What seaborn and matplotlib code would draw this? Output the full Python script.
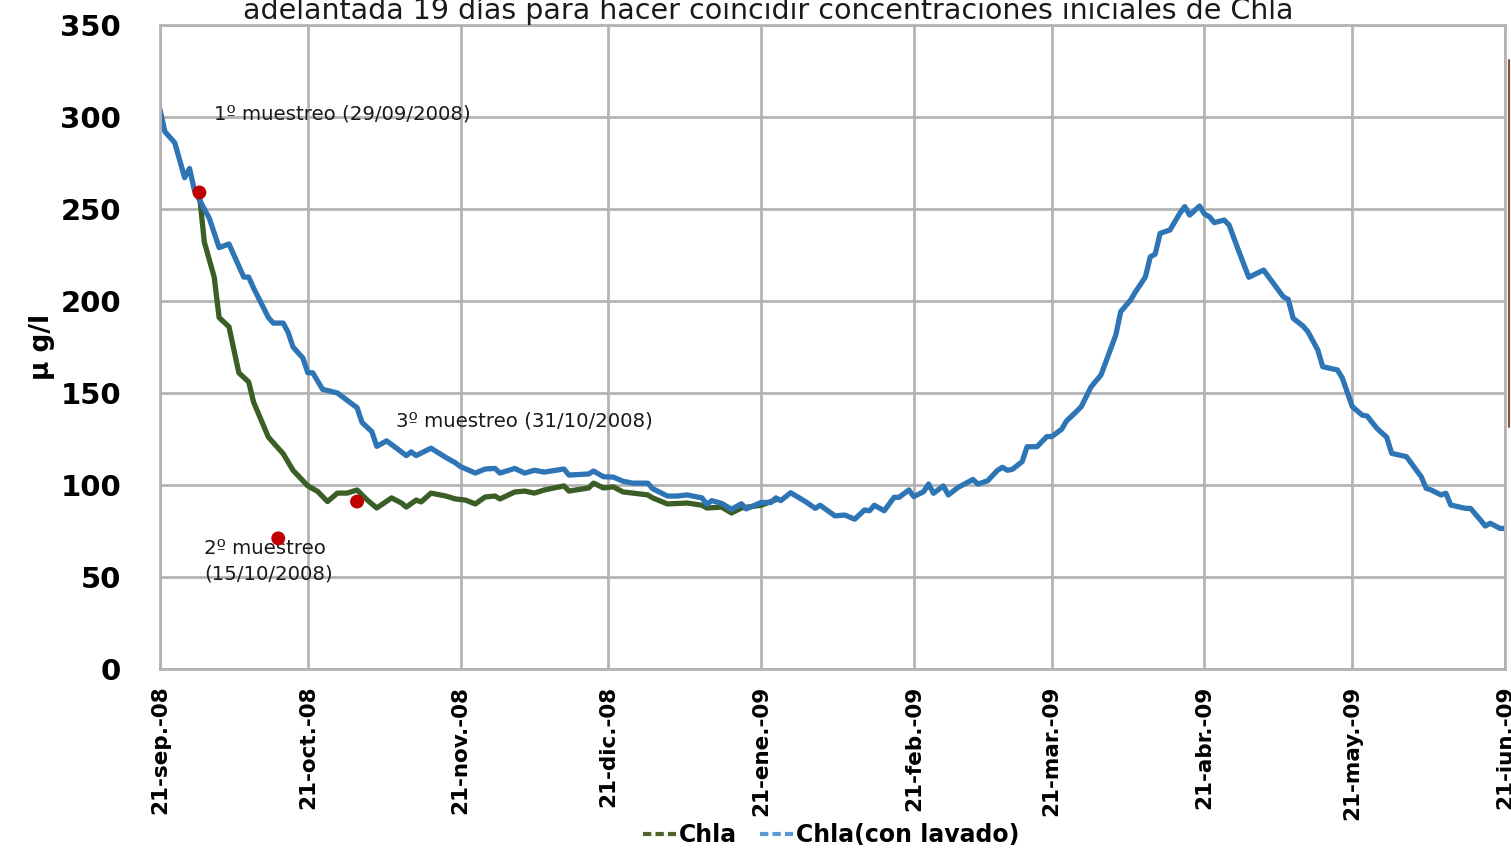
import numpy as np
import pandas as pd
import seaborn as sns
import matplotlib.pyplot as plt
from matplotlib.lines import Line2D

inicio = pd.Timestamp('2008-09-21')

# Chla(con lavado): dias desde 21-sep-08 y concentracion (ug/l)
lavado_dias = [0, 1, 3, 5, 6, 7, 9, 10, 12, 14, 15, 17, 18, 19, 22, 23, 25, 26, 27, 29,
               30, 31, 33, 36, 38, 40, 41, 43, 44, 46, 50, 51, 52, 55, 58, 60, 61, 64, 66, 68,
               69, 72, 74, 76, 78, 82, 83, 87, 88, 90, 92, 94, 96, 99, 100, 103, 105, 107, 110, 111,
               112, 114, 116, 118, 119, 122, 124, 125, 126, 128, 131, 133, 134, 137, 139, 141, 143, 144, 145, 147,
               149, 150, 152, 153, 155, 156, 157, 159, 160, 162, 165, 166, 168, 170, 171, 172, 173, 175, 176, 178,
               180, 181, 183, 184, 186, 187, 189, 191, 192, 194, 195, 197, 198, 200, 201, 202, 203, 205, 207, 208,
               209, 211, 212, 213, 214, 216, 217, 219, 221, 224, 226, 228, 229, 230, 232, 233, 235, 236, 239, 240,
               242, 244, 245, 247, 249, 250, 253, 254, 256, 257, 258, 260, 261, 262, 265, 266, 268, 269, 270, 272, 273]
lavado_vals = [304, 292, 286, 267, 272, 260, 250, 245, 229, 231, 225, 213, 213, 207, 191, 188, 188, 183, 175, 169,
               161, 161, 152, 150, 146, 142, 134, 129, 121, 124, 116, 118, 116, 120, 115, 112, 110, 106.5, 108.7, 109,
               106.5, 109, 106.5, 108, 107, 108.7, 105.4, 106, 107.6, 104.5, 104.3, 102, 101, 101, 98, 94, 94, 94.6, 93, 89.5,
               91.5, 90, 86.8, 89.8, 87, 90.5, 90.5, 93, 91.5, 95.8, 91, 87.3, 89, 83.2, 83.7, 81.4, 86.4, 86, 89, 86,
               93.3, 93.3, 97.3, 93.7, 96.4, 100.5, 95.5, 99.5, 94.6, 98.7, 103, 100.5, 102.3, 108, 109.6, 108, 108.5, 112.7, 120.8, 120.8,
               126.3, 126.3, 130.3, 134.8, 139.9, 142.6, 153.4, 159.8, 167, 181.5, 194.2, 200.5, 205, 213, 224, 225.5, 236.8, 238.6, 247.7, 251.3,
               246.7, 251.6, 247.3, 245.8, 242.6, 244, 241.3, 226.8, 212.9, 216.8, 209.6, 202.3, 200.9, 190.6, 186.4, 183.3, 173.4, 164.3, 162.5, 158,
               142.6, 138, 137.5, 130.8, 125.9, 117.2, 115.4, 111.8, 104.5, 98.2, 97.3, 94.6, 95.5, 89.1, 87.3, 87.3, 81, 77.7, 79.2, 76.4, 76.4]

# Chla (serie adelantada 19 dias)
chla_dias = [8, 9, 11, 12, 14, 16, 18, 19, 22, 25, 27, 30, 32, 34, 36, 38, 40, 42, 44, 47,
             49, 50, 52, 53, 55, 58, 60, 62, 64, 66, 68, 69, 72, 74, 76, 78, 82, 83, 87, 88,
             90, 92, 94, 96, 99, 100, 103, 107, 110, 111, 114, 116, 118, 122, 125]
chla_vals = [258, 232, 213, 191, 186, 161, 156, 145, 126, 117, 108, 99.5, 96.5, 91, 95.6, 95.6, 97.3, 92, 87.5, 93,
             90.2, 88, 91.8, 90.8, 95.6, 94, 92.4, 91.8, 89.7, 93.5, 94, 92.4, 96.2, 96.7, 95.6, 97.3, 99.5, 96.7, 98.4, 101,
             98.4, 99, 96.2, 95.6, 94.6, 93, 89.7, 90.2, 89, 87.5, 88, 84.8, 87.5, 89, 92]

muestreo_fechas = ['2008-09-29', '2008-10-15', '2008-10-31']
muestreo_vals = [259, 71, 91]

tick_fechas = ['2008-09-21', '2008-10-21', '2008-11-21', '2008-12-21', '2009-01-21',
               '2009-02-21', '2009-03-21', '2009-04-21', '2009-05-21', '2009-06-21']
tick_labels = ['21-sep.-08', '21-oct.-08', '21-nov.-08', '21-dic.-08', '21-ene.-09',
               '21-feb.-09', '21-mar.-09', '21-abr.-09', '21-may.-09', '21-jun.-09']

df_lav = pd.DataFrame({'fecha': inicio + pd.to_timedelta(lavado_dias, unit='D'), 'valor': lavado_vals})
df_chla = pd.DataFrame({'fecha': inicio + pd.to_timedelta(chla_dias, unit='D'), 'valor': chla_vals})
df_mue = pd.DataFrame({'fecha': pd.to_datetime(muestreo_fechas), 'valor': muestreo_vals})

sns.set_style('white')
plt.rcParams['font.family'] = ['DejaVu Sans']

verde = '#3b5e26'
azul = '#2e75b6'
gris = '#b4b4b4'

fig = plt.figure(figsize=(15.11, 8.55), dpi=100)
ax = fig.add_axes([160 / 1511, 1 - 669 / 855, (1505 - 160) / 1511, (669 - 25) / 855])

sns.lineplot(data=df_chla, x='fecha', y='valor', color=verde, lw=3.8, ax=ax)
sns.lineplot(data=df_lav, x='fecha', y='valor', color=azul, lw=3.8, ax=ax)
sns.scatterplot(data=df_mue, x='fecha', y='valor', color='#c00000', s=100, edgecolor='none', zorder=5, ax=ax)

ax.set_ylim(0, 350)
ax.set_yticks(range(0, 351, 50))
ax.set_xlim(pd.Timestamp('2008-09-21'), pd.Timestamp('2009-06-21'))
ax.set_xticks(pd.to_datetime(tick_fechas))
ax.set_xticklabels(tick_labels, rotation=90, fontsize=15.5, fontweight='bold', color='black')
ax.tick_params(axis='y', labelsize=21, pad=28, labelcolor='black', length=0)
for lab in ax.get_yticklabels():
    lab.set_fontweight('bold')
ax.tick_params(axis='x', pad=4, length=8, width=2, color=gris, direction='out')

ax.grid(True, color=gris, lw=2)
ax.set_axisbelow(True)
for s in ax.spines.values():
    s.set_color(gris)
    s.set_linewidth(2)
ax.set_xlabel('')
ax.set_ylabel('µ g/l', fontsize=19, fontweight='bold', labelpad=4, color='black')

txt = dict(fontsize=14.2, color='#1a1a1a')
ax.text(pd.Timestamp('2008-10-02'), 301.5, '1º muestreo (29/09/2008)', va='center', **txt)
ax.text(pd.Timestamp('2008-11-08'), 135, '3º muestreo (31/10/2008)', va='center', **txt)
ax.text(pd.Timestamp('2008-09-30'), 70.5, '2º muestreo\n(15/10/2008)', va='top', linespacing=1.4, **txt)

fig.text(768 / 1511, 1 - 19 / 855, 'adelantada 19 días para hacer coincidir concentraciones iniciales de Chla',
         ha='center', va='baseline', fontsize=20.5, color='#1a1a1a')

handles = [Line2D([], [], color='#4f6228', lw=3, ls=(0, (2, 1))),
           Line2D([], [], color='#5b9bd5', lw=3, ls=(0, (2, 1)))]
fig.legend(handles, ['Chla', 'Chla(con lavado)'], loc='center', bbox_to_anchor=(831 / 1511, 1 - 835 / 855),
           ncol=2, frameon=False, handlelength=1.4, handletextpad=0.1, columnspacing=1.0,
           prop={'weight': 'bold', 'size': 17}, labelcolor='black')

fig.add_artist(Line2D([1509 / 1511, 1509 / 1511], [1 - 60 / 855, 1 - 427 / 855], color='#8b4f3a', lw=1.5))

fig.savefig('out.png', dpi=100)
